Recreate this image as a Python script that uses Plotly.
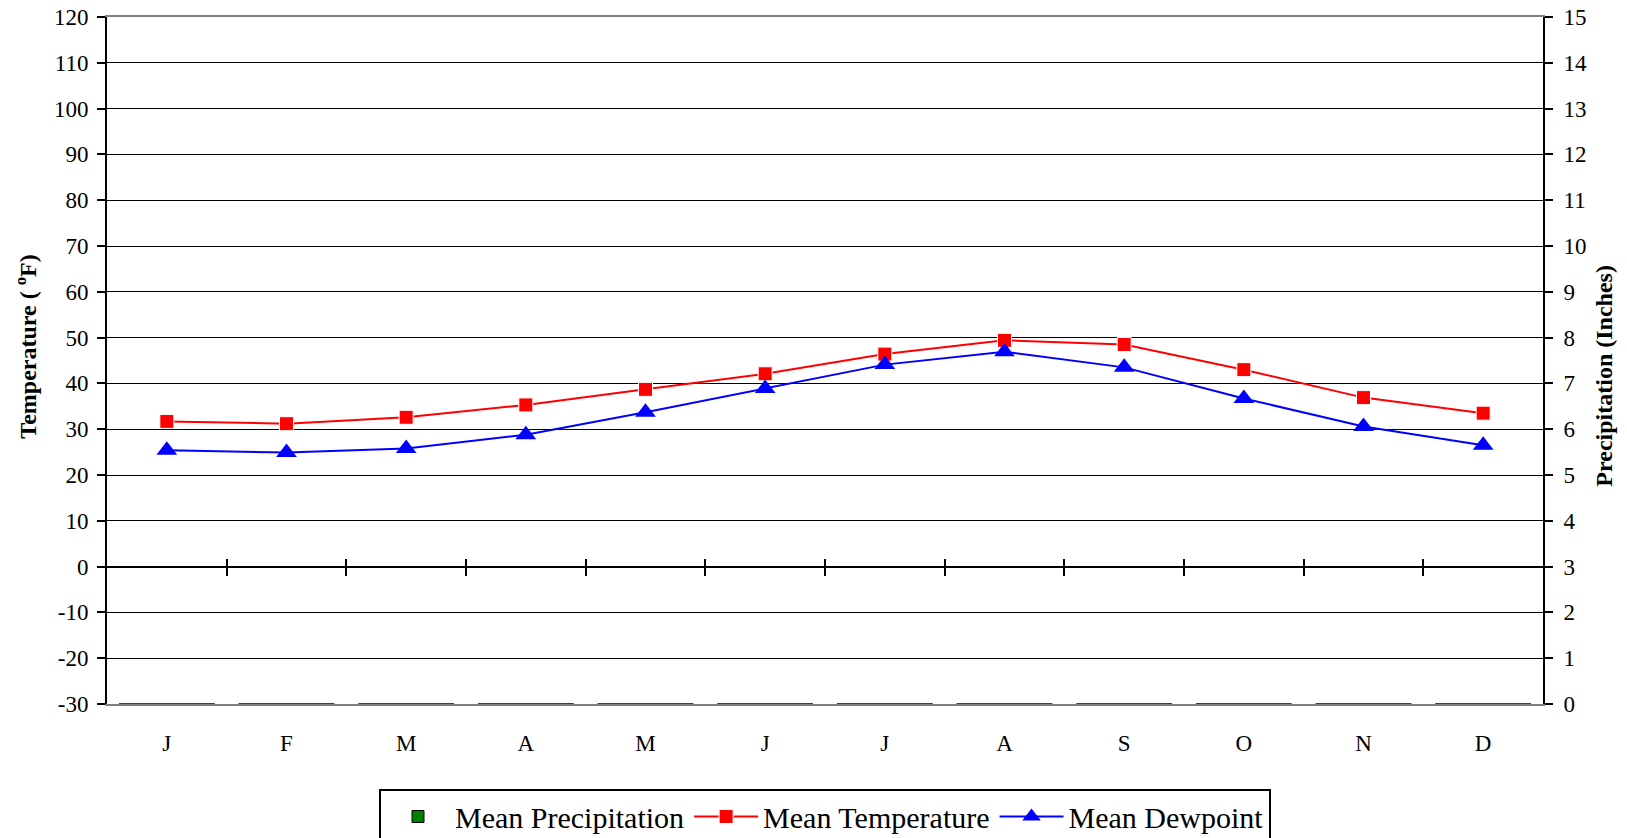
import plotly.graph_objects as go

months = ["J", "F", "M", "A", "M", "J", "J", "A", "S", "O", "N", "D"]
mean_precip = [0, 0, 0, 0, 0, 0, 0, 0, 0, 0, 0, 0]
mean_temp = [31.7, 31.2, 32.6, 35.3, 38.7, 42.1, 46.4, 49.4, 48.5, 43.0, 36.9, 33.5]
mean_dewpoint = [25.4, 24.9, 25.8, 28.8, 33.7, 38.9, 44.1, 46.9, 43.5, 36.7, 30.6, 26.5]
temp_ticks = [-30, -20, -10, 0, 10, 20, 30, 40, 50, 60, 70, 80, 90, 100, 110, 120]
temp_tick_labels = [str(v) for v in temp_ticks]  # plain hyphen, not the unicode minus

x_idx = list(range(len(months)))
boundaries = [i + 0.5 for i in x_idx[:-1]]
serif = "Liberation Serif"

fig = go.Figure()
fig.add_trace(go.Bar(x=x_idx, y=mean_precip, name="Mean Precipitation", xaxis="x2", yaxis="y2",
                     marker=dict(color="#008000", line=dict(color="black", width=1))))
fig.add_trace(go.Scatter(x=x_idx, y=mean_temp, name="Mean Temperature", mode="lines+markers",
                         line=dict(color="red", width=2),
                         marker=dict(symbol="square", size=14, color="red",
                                     line=dict(color="white", width=1))))
fig.add_trace(go.Scatter(x=x_idx, y=mean_dewpoint, name="Mean Dewpoint", mode="lines+markers",
                         xaxis="x3", line=dict(color="blue", width=2),
                         marker=dict(symbol="triangle-up", size=18, color="blue")))

tick_font = dict(family=serif, size=23, color="black")
title_font = dict(family=serif, size=24, color="black")

fig.update_layout(
    width=1627, height=838,
    margin=dict(l=107, r=84, t=17, b=134, autoexpand=False),
    plot_bgcolor="white", paper_bgcolor="white",
    font=dict(family=serif, color="black"),
    showlegend=True,
    legend=dict(orientation="h", x=0.5, xanchor="center", y=-0.123, yanchor="top",
                bordercolor="black", borderwidth=2, font=dict(family=serif, size=30),
                itemwidth=64),
    xaxis=dict(range=[-0.5, 11.5], tickmode="array", tickvals=x_idx, ticktext=months,
               showgrid=False, zeroline=False, ticks="", tickfont=tick_font, automargin=False,
               ticklabelstandoff=17, showline=True, linecolor="#808080", linewidth=2, mirror=True),
    # crossing tick marks on the zero line
    xaxis2=dict(overlaying="x", anchor="free", position=0.2, range=[-0.5, 11.5],
                tickmode="array", tickvals=boundaries, showticklabels=False,
                ticks="outside", ticklen=8, tickwidth=2, tickcolor="black",
                showgrid=False, zeroline=False, showline=False, automargin=False),
    xaxis3=dict(overlaying="x", anchor="free", position=0.2, side="top", range=[-0.5, 11.5],
                tickmode="array", tickvals=boundaries, showticklabels=False,
                ticks="outside", ticklen=8, tickwidth=2, tickcolor="black",
                showgrid=False, zeroline=False, showline=False, automargin=False),
    yaxis=dict(range=[-30, 120], tickmode="array", tickvals=temp_ticks, ticktext=temp_tick_labels,
               tickfont=tick_font, showgrid=True,
               gridcolor="black", gridwidth=1, zeroline=True, zerolinecolor="black",
               zerolinewidth=2, showline=True, linecolor="black", linewidth=2,
               ticks="outside", ticklen=8, tickwidth=2, tickcolor="black",
               ticklabelstandoff=4, ticklabeloverflow="allow", automargin=False),
    yaxis2=dict(overlaying="y", side="right", anchor="x2", range=[0, 15], dtick=1, tickfont=tick_font,
                showgrid=False, zeroline=False, showline=True, linecolor="black", linewidth=2,
                ticks="outside", ticklen=8, tickwidth=2, tickcolor="black",
                ticklabelstandoff=6, ticklabeloverflow="allow", automargin=False),
    annotations=[
        dict(text="<b>Temperature ( <sup>o</sup>F)</b>", xref="paper", yref="paper",
             x=-0.0565, y=0.52, xanchor="center", yanchor="middle", textangle=-90,
             showarrow=False, font=title_font),
        dict(text="<b>Precipitation (Inches)</b>", xref="paper", yref="paper",
             x=1.0425, y=0.478, xanchor="center", yanchor="middle", textangle=-90,
             showarrow=False, font=title_font),
    ],
)

# drop the default 8px page margin so the figure fills the window
fig.write_html("out.html", config={"displayModeBar": False},
               post_script="document.body.style.margin='0';")
